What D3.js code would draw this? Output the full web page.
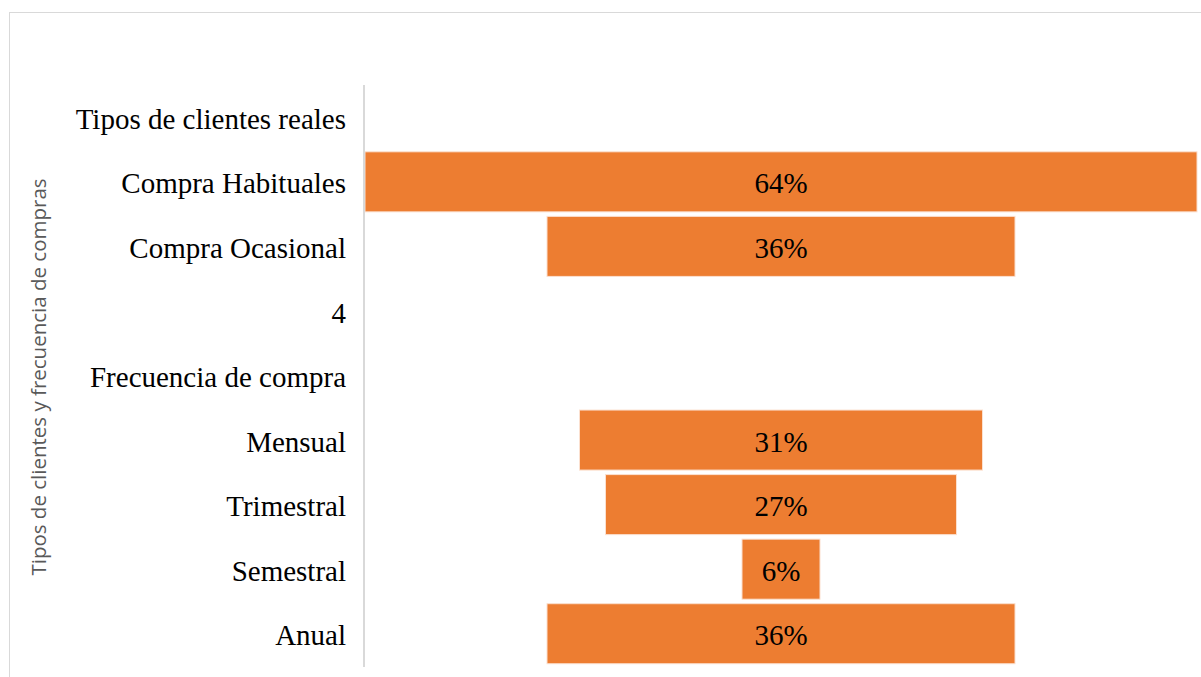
<!DOCTYPE html>
<html>
<head>
<meta charset="utf-8">
<script src="https://cdn.jsdelivr.net/npm/d3@7"></script>
<style>
  body { margin: 0; background: #fff; }
  svg { display: block; }
</style>
</head>
<body>
<script>
// categories top to bottom, value null = no bar
var categories = ["Tipos de clientes reales", "Compra Habituales", "Compra Ocasional", "4",
                  "Frecuencia de compra", "Mensual", "Trimestral", "Semestral", "Anual"];
var values = [null, 64, 36, null, null, 31, 27, 6, 36];
var yTitle = "Tipos de clientes y frecuencia de compras";

var W = 1201, H = 677;
var svg = d3.select("body").append("svg").attr("width", W).attr("height", H);

// chart frame
svg.append("rect")
    .attr("x", 9.5).attr("y", 12.5)
    .attr("width", 1250).attr("height", 700)
    .attr("fill", "none").attr("stroke", "#d9d9d9");

var y = d3.scaleBand().domain(categories).range([85, 666])
    .paddingInner(0.07).paddingOuter(0.035);
var w = d3.scaleLinear().domain([0, 64]).range([0, 832]);
var cx = 781;

var rows = categories.map(function (c, i) { return {c: c, v: values[i]}; })
    .filter(function (d) { return d.v != null; });

// bars
svg.selectAll("rect.bar")
    .data(rows)
    .enter().append("rect")
    .attr("class", "bar")
    .attr("x", function (d) { return cx - w(d.v) / 2; })
    .attr("y", function (d) { return y(d.c); })
    .attr("width", function (d) { return w(d.v); })
    .attr("height", y.bandwidth())
    .attr("fill", "#ED7D31")
    .attr("stroke", "#fbe0cf").attr("stroke-width", 1);

svg.selectAll("text.val")
    .data(rows)
    .enter().append("text")
    .attr("class", "val")
    .attr("x", cx)
    .attr("y", function (d) { return y(d.c) + y.bandwidth() / 2; })
    .attr("dy", "0.4em")
    .attr("text-anchor", "middle")
    .style("font-family", "'Liberation Serif', 'Times New Roman', serif")
    .style("font-size", "29px")
    .attr("fill", "#000")
    .text(function (d) { return d.v + "%"; });

// category axis
var axis = svg.append("g").attr("transform", "translate(364,0)")
    .call(d3.axisLeft(y).tickSize(0).tickPadding(18));
axis.select(".domain").attr("stroke", "#d9d9d9").attr("stroke-width", 2)
    .attr("d", "M0,85V667");
axis.attr("font-family", null);
axis.selectAll("text")
    .attr("dy", "0.4em")
    .style("font-family", "'Liberation Serif', 'Times New Roman', serif")
    .style("font-size", "29px")
    .attr("fill", "#000");

svg.append("text")
    .attr("transform", "translate(46,377) rotate(-90)")
    .attr("text-anchor", "middle")
    .style("font-family", "'Open Sans', sans-serif")
    .style("font-size", "20.5px")
    .attr("fill", "#595959")
    .text(yTitle);
</script>
</body>
</html>
